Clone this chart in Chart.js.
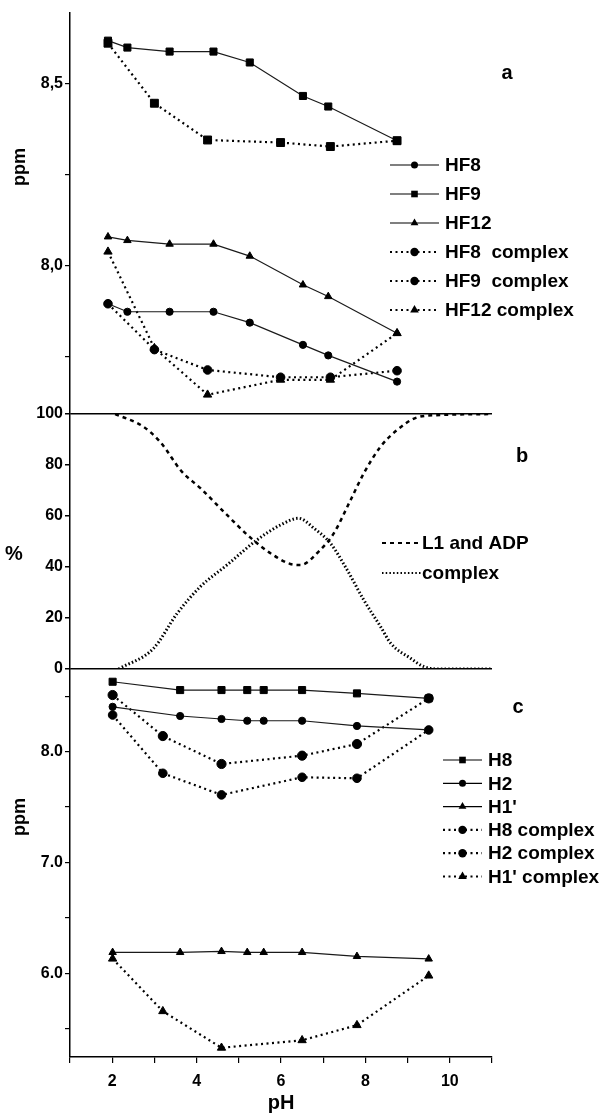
<!DOCTYPE html>
<html>
<head>
<meta charset="utf-8">
<script src="https://cdn.jsdelivr.net/npm/chart.js@4.4.1/dist/chart.umd.min.js"></script>
<style>
  html, body { margin: 0; padding: 0; background: #fff; }
  #wrap { position: relative; width: 607px; height: 1116px; }
</style>
</head>
<body>
<div id="wrap"><canvas id="nmr" width="607" height="1116"></canvas></div>
<script>
/*
 * Values
 */
// panel a: HF protons, ppm vs pH
const phFreeA = [1.9, 2.36, 3.36, 4.4, 5.26, 6.52, 7.12, 8.75];
const phCplxA = [1.9, 3.0, 4.26, 5.99, 7.17, 8.75];
const hf8 = [7.896, 7.874, 7.874, 7.874, 7.844, 7.783, 7.754, 7.682];
const hf9 = [8.619, 8.600, 8.589, 8.589, 8.559, 8.467, 8.438, 8.344];
const hf12 = [8.080, 8.070, 8.060, 8.060, 8.027, 7.948, 7.916, 7.815];
const hf8Cplx = [7.896, 7.770, 7.714, 7.694, 7.694, 7.712];
const hf9Cplx = [8.612, 8.447, 8.346, 8.339, 8.328, 8.344];
const hf12Cplx = [8.039, 7.774, 7.646, 7.687, 7.687, 7.815];

// panel b: species distribution, %
const phL1 = [2.07, 2.74, 3.14, 3.65, 4.09, 4.72, 5.27, 5.75, 6.22, 6.46, 6.93, 7.25, 7.65, 7.96, 8.36, 8.75, 9.23, 9.78, 11];
const pctL1 = [100, 95, 89, 77.4, 70.9, 60.4, 51.6, 45.4, 41.2, 40.8, 46.7, 53.2, 66.3, 76.7, 87.2, 93.7, 98.7, 99.6, 100];
const phComplex = [2.15, 2.98, 3.54, 4.09, 4.72, 5.43, 5.99, 6.42, 6.78, 7.17, 7.57, 7.96, 8.36, 8.6, 9.07, 9.39, 9.7, 11];
const pctComplex = [0, 8.1, 21.8, 32.3, 40.8, 50.6, 56.5, 59.1, 55.2, 49.3, 38.8, 27.1, 16.6, 10.1, 4.2, 0.9, 0, 0];

// panel c: ADP protons, ppm vs pH
const phFreeC = [2.01, 3.61, 4.59, 5.2, 5.59, 6.5, 7.8, 9.5];
const phCplxC = [2.01, 3.2, 4.59, 6.5, 7.8, 9.5];
const h8 = [8.631, 8.556, 8.556, 8.556, 8.556, 8.556, 8.526, 8.481];
const h2 = [8.405, 8.322, 8.295, 8.279, 8.279, 8.279, 8.232, 8.196];
const h1p = [6.189, 6.189, 6.198, 6.189, 6.189, 6.189, 6.153, 6.130];
const h8Cplx = [8.511, 8.141, 7.889, 7.964, 8.069, 8.481];
const h2Cplx = [8.331, 7.805, 7.610, 7.769, 7.760, 8.196];
const h1pCplx = [6.132, 5.658, 5.328, 5.396, 5.532, 5.979];

const xTicksLabeled = [2, 4, 6, 8, 10];

const FONT = '"Liberation Sans", Arial, sans-serif';
Chart.defaults.font.family = FONT;
Chart.defaults.color = '#000';

function pts(xs, ys) {
    return xs.map((x, i) => ({x: x, y: ys[i]}));
}

// solid line with markers
function freeSet(label, xs, ys, axis, marker, r, panel) {
    return {
        label: label, data: pts(xs, ys), yAxisID: axis,
        borderColor: '#1a1a1a', borderWidth: 1.2,
        pointStyle: marker, pointRadius: r, pointHoverRadius: r,
        pointBackgroundColor: '#000', pointBorderColor: '#000', pointBorderWidth: 1,
        panel: panel, legendStyle: marker
    };
}

// dotted line with bigger markers
function cplxSet(label, xs, ys, axis, marker, r, panel) {
    return {
        label: label, data: pts(xs, ys), yAxisID: axis,
        borderColor: '#000', borderWidth: 2.2, borderDash: [2, 3.5],
        pointStyle: marker, pointRadius: r, pointHoverRadius: r,
        pointBackgroundColor: '#000', pointBorderColor: '#000', pointBorderWidth: 1,
        panel: panel, legendStyle: marker === 'rect' ? 'circle' : marker, big: true
    };
}

function curveSet(label, xs, ys, dash, width) {
    return {
        label: label, data: pts(xs, ys), yAxisID: 'yb',
        borderColor: '#000', borderWidth: width, borderDash: dash,
        pointRadius: 0, cubicInterpolationMode: 'monotone',
        panel: 'b', legendStyle: null
    };
}

const datasets = [
    freeSet('HF8', phFreeA, hf8, 'ya', 'circle', 3.6, 'a'),
    freeSet('HF9', phFreeA, hf9, 'ya', 'rect', 5, 'a'),
    freeSet('HF12', phFreeA, hf12, 'ya', 'triangle', 4.3, 'a'),
    cplxSet('HF8  complex', phCplxA, hf8Cplx, 'ya', 'circle', 4.3, 'a'),
    cplxSet('HF9  complex', phCplxA, hf9Cplx, 'ya', 'rect', 5.6, 'a'),
    cplxSet('HF12 complex', phCplxA, hf12Cplx, 'ya', 'triangle', 4.8, 'a'),
    curveSet('L1 and ADP', phL1, pctL1, [4, 4], 2.5),
    curveSet('complex', phComplex, pctComplex, [1.5, 2.2], 3),
    freeSet('H8', phFreeC, h8, 'yc', 'rect', 5, 'c'),
    freeSet('H2', phFreeC, h2, 'yc', 'circle', 3.6, 'c'),
    freeSet("H1'", phFreeC, h1p, 'yc', 'triangle', 4.3, 'c'),
    cplxSet('H8 complex', phCplxC, h8Cplx, 'yc', 'circle', 4.6, 'c'),
    cplxSet('H2 complex', phCplxC, h2Cplx, 'yc', 'circle', 4.3, 'c'),
    cplxSet("H1' complex", phCplxC, h1pCplx, 'yc', 'triangle', 4.8, 'c')
];

// legend placement for each panel
const legendLayout = {
    a: {x: 390, len: 49, textX: 445, y: 165, step: 29, size: 19},
    b: {x: 382, len: 39, textX: 422, y: 543, step: 30, size: 19},
    c: {x: 443, len: 39, textX: 488, y: 760, step: 23.3, size: 19}
};

function drawMarker(ctx, style, x, y, big) {
    ctx.beginPath();
    if (style === 'rect') {
        const s = 3.3;
        ctx.rect(x - s, y - s, 2 * s, 2 * s);
    } else if (style === 'triangle') {
        const r = big ? 5 : 4.5;
        ctx.moveTo(x, y - r);
        ctx.lineTo(x + r * 0.866, y + r * 0.5);
        ctx.lineTo(x - r * 0.866, y + r * 0.5);
        ctx.closePath();
    } else {
        ctx.arc(x, y, big ? 4.2 : 3.5, 0, Math.PI * 2);
    }
    ctx.fill();
}

// Legends, panel letters and side titles
const panelTextPlugin = {
    id: 'panelText',
    afterDraw: (chart) => {
        const ctx = chart.ctx;
        ctx.save();
        ctx.fillStyle = '#000';
        ctx.strokeStyle = '#000';
        ctx.textBaseline = 'middle';
        ctx.textAlign = 'left';

        const counters = {a: 0, b: 0, c: 0};
        chart.data.datasets.forEach(ds => {
            const lay = legendLayout[ds.panel];
            const y = lay.y + counters[ds.panel] * lay.step;
            counters[ds.panel] += 1;
            ctx.beginPath();
            ctx.setLineDash(ds.borderDash || []);
            ctx.lineWidth = Math.min(ds.borderWidth, 2.2);
            ctx.moveTo(lay.x, y);
            ctx.lineTo(lay.x + lay.len, y);
            ctx.stroke();
            ctx.setLineDash([]);
            if (ds.legendStyle) {
                drawMarker(ctx, ds.legendStyle, lay.x + lay.len / 2, y, ds.big);
            }
            ctx.font = 'bold ' + lay.size + 'px ' + FONT;
            ctx.fillText(ds.label, lay.textX, y + 1);
        });

        // panel letters
        ctx.font = 'bold 20px ' + FONT;
        ctx.textAlign = 'center';
        ctx.fillText('a', 507, 73);
        ctx.fillText('b', 522, 456);
        ctx.fillText('c', 518, 707);

        // side titles
        ctx.font = 'bold 20px ' + FONT;
        ctx.fillText('%', 14, 554);
        ctx.font = 'bold 18px ' + FONT;
        [[20, 167], [20, 817]].forEach(p => {
            ctx.save();
            ctx.translate(p[0], p[1]);
            ctx.rotate(-Math.PI / 2);
            ctx.fillText('ppm', 0, 0);
            ctx.restore();
        });
        ctx.restore();
    }
};

const tickFont = {size: 16, weight: 'bold'};
const axisWidth = (scale) => { scale.width = 70; };

function isMultiple(v, step) {
    return Math.abs(v / step - Math.round(v / step)) < 1e-6;
}

new Chart(document.getElementById('nmr'), {
    type: 'line',
    data: {datasets: datasets},
    options: {
        responsive: false,
        animation: false,
        events: [],
        layout: {padding: {top: 13, right: 115, bottom: 0, left: 0}},
        plugins: {
            legend: {display: false},
            tooltip: {enabled: false}
        },
        scales: {
            x: {
                type: 'linear', position: 'bottom', min: 1, max: 11,
                ticks: {
                    stepSize: 1, autoSkip: false, maxRotation: 0, font: tickFont, padding: 9,
                    callback: (v) => xTicksLabeled.includes(v) ? String(v) : ''
                },
                grid: {drawOnChartArea: false, color: '#000', tickLength: 6, lineWidth: 1.2},
                border: {color: '#000', width: 1.5},
                title: {display: true, text: 'pH', font: {size: 20, weight: 'bold'}, padding: {top: 0, bottom: 1}},
                afterFit: (scale) => { scale.height = 59; }
            },
            ya: {
                type: 'linear', position: 'left', stack: 'panels', stackWeight: 401, weight: 3,
                min: 7.593, max: 8.695,
                ticks: {
                    stepSize: 0.25, includeBounds: false, font: tickFont, padding: 2,
                    callback: (v) => isMultiple(v, 0.5) ? v.toFixed(1).replace('.', ',') : ''
                },
                grid: {drawOnChartArea: false, color: '#000', tickLength: 5, lineWidth: 1.2},
                border: {color: '#000', width: 1.5},
                afterFit: axisWidth
            },
            yb: {
                type: 'linear', position: 'left', stack: 'panels', stackWeight: 255, weight: 2,
                min: 0, max: 100,
                ticks: {
                    stepSize: 10, includeBounds: false, font: tickFont, padding: 2,
                    callback: (v) => isMultiple(v, 20) ? String(v) : ''
                },
                grid: {
                    color: (c) => (c.tick && (c.tick.value === 0 || c.tick.value === 100)) ? '#000' : 'rgba(0,0,0,0)',
                    tickColor: '#000', tickLength: 5, lineWidth: 1.5
                },
                border: {color: '#000', width: 1.5},
                afterFit: axisWidth
            },
            yc: {
                type: 'linear', position: 'left', stack: 'panels', stackWeight: 388, weight: 1,
                min: 5.245, max: 8.746,
                ticks: {
                    stepSize: 0.5, includeBounds: false, font: tickFont, padding: 2,
                    callback: (v) => isMultiple(v, 1) ? v.toFixed(1) : ''
                },
                grid: {drawOnChartArea: false, color: '#000', tickLength: 5, lineWidth: 1.2},
                border: {color: '#000', width: 1.5},
                afterFit: axisWidth
            }
        }
    },
    plugins: [panelTextPlugin]
});
</script>
</body>
</html>
